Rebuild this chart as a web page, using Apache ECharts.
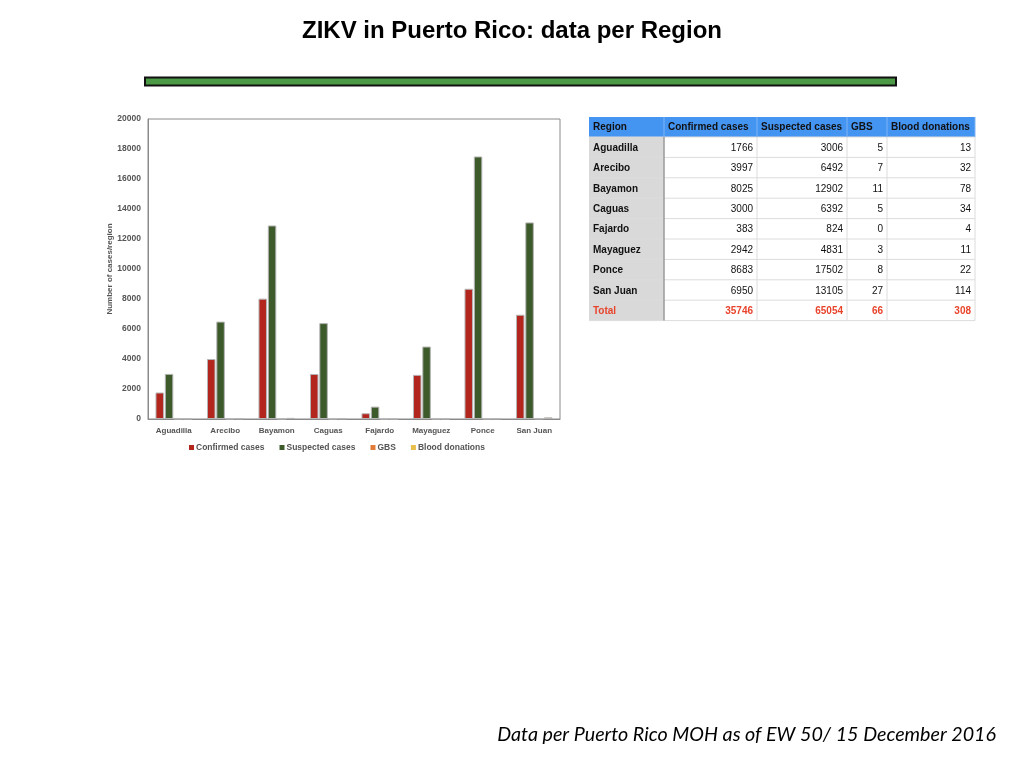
<!DOCTYPE html>
<html>
<head>
<meta charset="utf-8">
<script src="https://cdn.jsdelivr.net/npm/echarts@6/dist/echarts.min.js"></script>
<style>
html,body{margin:0;padding:0;background:#fff;}
#main{width:1024px;height:768px;}
</style>
</head>
<body>
<div id="main"></div>
<script>
// ---- data ----
var regions = ['Aguadilla','Arecibo','Bayamon','Caguas','Fajardo','Mayaguez','Ponce','San Juan'];
var confirmed = [1766,3997,8025,3000,383,2942,8683,6950];
var suspected = [3006,6492,12902,6392,824,4831,17502,13105];
var gbs = [5,7,11,5,0,3,8,27];
var blood = [13,32,78,34,4,11,22,114];
var totals = [35746,65054,66,308];
var seriesNames = ['Confirmed cases','Suspected cases','GBS','Blood donations'];
var tableHeader = ['Region','Confirmed cases','Suspected cases','GBS','Blood donations'];
var yTicks = [0,2000,4000,6000,8000,10000,12000,14000,16000,18000,20000];

var SANS = '"Liberation Sans", Arial, Helvetica, sans-serif';
var colors = ['#b3261e','#3d5a2a','#e07b39','#e8bf4a'];

// ---- table (graphic) ----
var colX = [589,664,757,847,887,975];
var rowY0 = 117, headH = 20, rowH = 20.4;
var g = [];
var nRows = regions.length + 1;
var tableBottom = rowY0 + headH + nRows*rowH;
g.push({type:'rect',shape:{x:colX[0],y:rowY0,width:colX[5]-colX[0],height:headH},style:{fill:'#4494f2'},silent:true});
g.push({type:'rect',shape:{x:colX[0],y:rowY0+headH,width:colX[1]-colX[0],height:nRows*rowH},style:{fill:'#d9d9d9'},silent:true});
for (var r=0;r<=nRows;r++){
  var yy = rowY0+headH+r*rowH;
  g.push({type:'line',shape:{x1:colX[0],y1:yy,x2:colX[5],y2:yy},style:{stroke:'#dcdcdc',lineWidth:1},silent:true});
}
for (var c=1;c<colX.length;c++){
  g.push({type:'line',shape:{x1:colX[c],y1:rowY0,x2:colX[c],y2:rowY0+headH},style:{stroke:'#7fb4f5',lineWidth:1},silent:true});
  g.push({type:'line',shape:{x1:colX[c],y1:rowY0+headH,x2:colX[c],y2:tableBottom},style:{stroke:c===1?'#9a9a9a':'#dcdcdc',lineWidth:c===1?1.5:1},silent:true});
}
for (var h=0;h<tableHeader.length;h++){
  g.push({type:'text',x:colX[h]+4,y:rowY0+headH/2+0.5,silent:true,
    style:{text:tableHeader[h],fill:'#111',font:'bold 10px '+SANS,textAlign:'left',textVerticalAlign:'middle'}});
}
var cols = [confirmed,suspected,gbs,blood];
for (var i=0;i<nRows;i++){
  var isTot = i===regions.length;
  var cy = rowY0+headH+i*rowH+rowH/2+0.8;
  var col = isTot ? '#e8442c' : '#111';
  g.push({type:'text',x:colX[0]+4,y:cy,silent:true,
    style:{text:isTot?'Total':regions[i],fill:col,font:'bold 10px '+SANS,textAlign:'left',textVerticalAlign:'middle'}});
  for (var k=0;k<4;k++){
    var v = isTot ? totals[k] : cols[k][i];
    g.push({type:'text',x:colX[k+2]-4,y:cy,silent:true,
      style:{text:String(v),fill:col,font:(isTot?'bold ':'')+'10px '+SANS,textAlign:'right',textVerticalAlign:'middle'}});
  }
}
g.push({type:'text',x:512,y:31,silent:true,style:{text:'ZIKV in Puerto Rico: data per Region',fill:'#000',font:'bold 24px '+SANS,textAlign:'center',textVerticalAlign:'middle'}});
g.push({type:'rect',shape:{x:145,y:77.5,width:751,height:8},style:{fill:'#4c9a45',stroke:'#111',lineWidth:2},silent:true});
g.push({type:'text',x:996,y:735,silent:true,style:{text:'Data per Puerto Rico MOH as of EW 50/ 15 December 2016',fill:'#000',font:'italic 19.7px Lato, "Open Sans", sans-serif',textAlign:'right',textVerticalAlign:'middle'}});

var chart = echarts.init(document.getElementById('main'));
function mkSeries(idx, data){
  return {name:seriesNames[idx],type:'bar',data:data,barWidth:8.5,barGap:'10%',
    itemStyle:{color:colors[idx],borderColor:'#b5b5b5',borderWidth:1},silent:true};
}
chart.setOption({
  animation:false,
  backgroundColor:'#fff',
  grid:{left:148,right:464,top:119,bottom:349,show:true,borderColor:'#8a8a8a',borderWidth:1,backgroundColor:'transparent'},
  legend:{left:184,top:438,itemWidth:5,itemHeight:5,itemGap:15,icon:'rect',
    itemStyle:{borderWidth:0},
    textStyle:{fontFamily:SANS,fontSize:8.5,fontWeight:'bold',color:'#555',padding:[0,0,0,-3]},
    data:seriesNames},
  xAxis:{type:'category',data:regions,
    axisLine:{lineStyle:{color:'#8a8a8a'}},axisTick:{show:false},
    axisLabel:{fontFamily:SANS,fontSize:8,fontWeight:'bold',color:'#555',margin:8,interval:0}},
  yAxis:{type:'value',min:yTicks[0],max:yTicks[yTicks.length-1],interval:yTicks[1]-yTicks[0],
    name:'Number of cases/region',nameLocation:'middle',nameGap:34,
    nameTextStyle:{fontFamily:SANS,fontSize:8,fontWeight:'bold',color:'#555'},
    axisLine:{show:true,lineStyle:{color:'#8a8a8a'}},axisTick:{show:false},splitLine:{show:false},
    axisLabel:{fontFamily:SANS,fontSize:8.5,fontWeight:'bold',color:'#555',margin:7,formatter:function(v){return String(v);}}},
  series:[mkSeries(0,confirmed),mkSeries(1,suspected),mkSeries(2,gbs),mkSeries(3,blood)],
  graphic:g
});
</script>
</body>
</html>
